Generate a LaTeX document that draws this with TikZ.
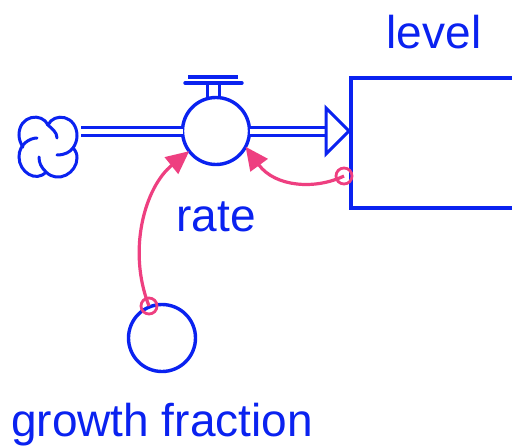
\documentclass[tikz,border=0pt]{standalone}
\usepackage{fontspec}
\setmainfont{Liberation Sans}
\usetikzlibrary{arrows.meta,calc}
\definecolor{sdblue}{HTML}{0A22F0}
\definecolor{sdpink}{HTML}{EE3F80}
\tikzset{
  x=1pt,y=-1pt,
  sdline/.style={draw=sdblue,line width=3.4pt},
  sdthin/.style={draw=sdblue,line width=3pt},
  varcircle/.style={sdline,circle,minimum size=67pt,inner sep=0pt,outer sep=0pt},
  stockbox/.style={draw=sdblue,line width=3.8pt,rectangle,inner sep=0pt,outer sep=0pt},
  lbl/.style={text=sdblue,font=\fontsize{46}{50}\selectfont,inner sep=0pt},
  flowpipe/.style={draw=sdblue,line width=3pt,double=white,double distance=5pt},
  linkarrow/.style={draw=sdpink,line width=3.2pt,-{Triangle[length=23pt,width=21pt]}},
  linkring/.style={draw=sdpink,line width=2.8pt,circle,minimum size=16pt,inner sep=0pt,outer sep=0pt},
}
\begin{document}
\begin{tikzpicture}
\useasboundingbox (0,0) rectangle (512,447);
\clip (0,0) rectangle (512,447);
\fill[white] (0,0) rectangle (512,447);

% stock
\node[stockbox,minimum width=200pt,minimum height=130pt] (stock) at (451,143) {};
\node[lbl] (levellabel) at (434,32) {level};

% variables
\node[varcircle] (rate) at (216,131) {};
\node[varcircle] (aux) at (162,338) {};
\node[lbl] (ratelabel) at (216,217) {rate};
\node[lbl] (auxlabel) at (162,425) {growth fraction};

% valve
\draw[sdthin] (207,98) -- (207,85);
\draw[sdthin] (219,98) -- (219,85);
\draw[sdline,line cap=round] (185,83) -- (242,83);
\draw[sdline] (188,77) -- (238,77);

% cloud
\begin{scope}[line cap=round]
\draw[sdthin] (48,125) .. controls (42,112) and (19,115) .. (19,135) .. controls (19,140) and (21,144) .. (23,147);
\draw[sdthin] (37,138) .. controls (30,138) and (19,144) .. (19,157) .. controls (19,172) and (36,183) .. (46,172);
\draw[sdthin] (57,138) .. controls (57,132) and (52,129) .. (48,125) .. controls (54,112) and (77,115) .. (77,136) .. controls (77,141) and (75,145) .. (73,148);
\draw[sdthin] (57,155) .. controls (65,155) and (70,152) .. (73,148) .. controls (76,151) and (77,154) .. (77,158) .. controls (77,173) and (58,184) .. (46,172) .. controls (41,167) and (39,163) .. (39,157);
\end{scope}

% flow
\coordinate (src) at (81,131);
\coordinate (headback) at (326,131);
\coordinate (headtip) at (349,131);
\draw[flowpipe] (src) -- (rate.west);
\draw[flowpipe] (rate.east) -- (headback);
\draw[sdthin,fill=white,line join=miter] (headtip) -- ($(headback)+(0,-23)$) -- ($(headback)+(0,23)$) -- cycle;

% rings and links
\node[linkring] (auxring) at (149,306) {};
\node[linkring] (stockring) at (344,176) {};
\draw[linkarrow] (auxring.center) .. controls (127,250) and (145,187) .. (rate.217);
\draw[linkarrow] (stockring.center) .. controls (315,190) and (275,187) .. (rate.-28);
\end{tikzpicture}
\end{document}
